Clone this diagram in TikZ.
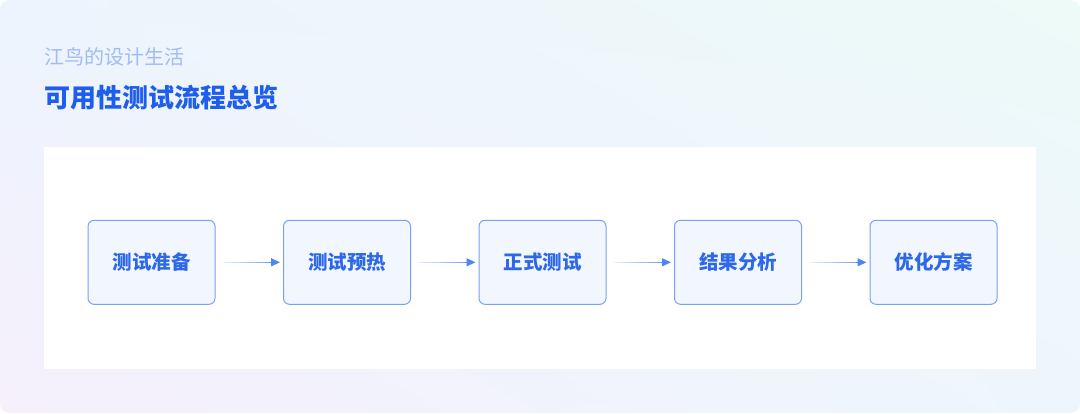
\documentclass[tikz,border=0pt]{standalone}
\usepackage{fontspec}
\setmainfont{Noto Sans CJK SC}
\definecolor{bgblue}{RGB}{237, 244, 253}
\definecolor{bgmint}{RGB}{237, 250, 248}
\definecolor{bglilac}{RGB}{245, 240, 252}
\definecolor{bgsky}{RGB}{238, 246, 253}
\definecolor{subblue}{RGB}{160, 188, 245}
\definecolor{titleblue}{RGB}{30, 94, 238}
\definecolor{stepblue}{RGB}{44, 104, 232}
\definecolor{edgeblue}{RGB}{118, 161, 245}
\definecolor{stepfill}{RGB}{242, 247, 255}
\definecolor{arrowblue}{RGB}{80, 134, 240}
\usetikzlibrary{arrows.meta, positioning, fadings, shadings}

\tikzset{
  stepbox/.style={draw=edgeblue, fill=stepfill, line width=1pt, rounded corners=6pt,
    minimum width=127pt, minimum height=84pt, inner sep=0pt, text=stepblue,
    font=\fontsize{19.5}{19.5}\selectfont\bfseries},
  flowline/.style={line width=1.2pt, arrowblue, path fading=west, shorten <=7pt, shorten >=8pt},
  flowtip/.style={-{Triangle[length=9pt, width=8pt]}, line width=1.2pt, arrowblue,
    shorten <=54pt, shorten >=3pt}
}

\begin{document}
\begin{tikzpicture}[x=1pt, y=-1pt]
  % Background
  \useasboundingbox (0, 0) rectangle (1080, 413);
  \shade[rounded corners=9pt, upper left=bgblue, upper right=bgmint, lower left=bglilac, lower right=bgsky]
    (0, 0) rectangle (1080, 413);

  % Heading
  \node[anchor=west, inner sep=0pt, text=subblue, font=\fontsize{20}{20}\selectfont] (brand) at (44, 57) {江鸟的设计生活};
  \node[anchor=west, inner sep=0pt, text=titleblue, font=\fontsize{26}{26}\selectfont\bfseries] (title) at (44, 98) {可用性测试流程总览};

  % Panel
  \node[fill=white, minimum width=992pt, minimum height=222pt, inner sep=0pt, anchor=north west] (panel) at (44, 147) {};

  % Steps
  \node[stepbox] (prep) at (151.5, 262.3) {测试准备};
  \node[stepbox] (warm) at (347, 262.3) {测试预热};
  \node[stepbox] (formal) at (542.5, 262.3) {正式测试};
  \node[stepbox] (result) at (738, 262.3) {结果分析};
  \node[stepbox] (plan) at (933.5, 262.3) {优化方案};

  % Arrows (faded line, then solid tip)
  \draw[flowline] (prep) -- (warm);
  \draw[flowline] (warm) -- (formal);
  \draw[flowline] (formal) -- (result);
  \draw[flowline] (result) -- (plan);
  \draw[flowtip] (prep) -- (warm);
  \draw[flowtip] (warm) -- (formal);
  \draw[flowtip] (formal) -- (result);
  \draw[flowtip] (result) -- (plan);
\end{tikzpicture}
\end{document}
